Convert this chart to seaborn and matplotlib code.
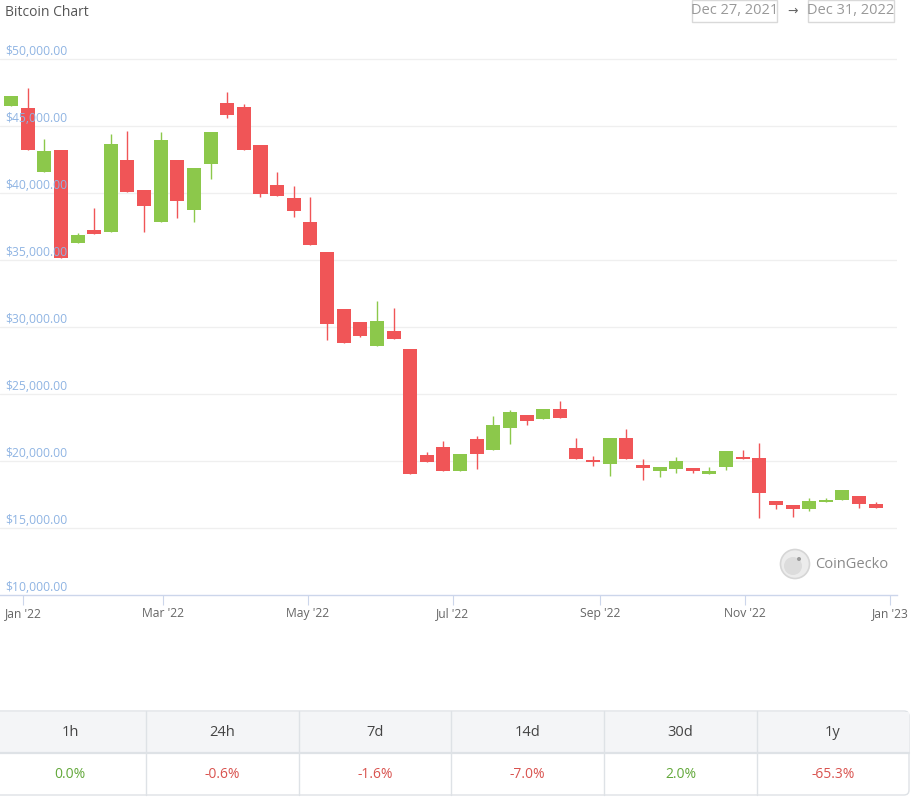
import matplotlib
matplotlib.use("Agg")
import matplotlib.pyplot as plt
from matplotlib.patches import Rectangle, Circle, FancyBboxPatch
import numpy as np
import pandas as pd
import seaborn as sns

# ---------------- data ----------------
week_start = "2021-12-27"
n_weeks = 53
opens = [46480, 46330, 41530, 43200, 36280, 37250, 37060, 42450, 40210, 37800,
         42450, 38740, 42200, 46750, 46400, 43550, 40610, 39590, 37850, 35570,
         31310, 30340, 28600, 29700, 28330, 20440, 21040, 19270, 21620, 20790,
         22480, 23400, 23130, 23900, 20970, 20070, 19770, 21730, 19700, 19270,
         19420, 19450, 19030, 19530, 20300, 20200, 17030, 16690, 16420, 16940,
         17110, 17390, 16790]
highs = [47250, 47820, 44000, 43200, 36980, 38870, 44440, 44610, 40210, 44520,
         42450, 41850, 44540, 47550, 46630, 43550, 41580, 40530, 39710, 35570,
         31310, 30340, 31930, 31410, 28330, 20690, 21490, 20540, 21860, 23350,
         23800, 23400, 23900, 24470, 21730, 20350, 21730, 22360, 20120, 19550,
         20320, 19450, 19570, 20720, 20820, 21320, 17030, 16690, 17210, 17210,
         17810, 17390, 16920]
lows = [46480, 43200, 41530, 35140, 36280, 36950, 37060, 40090, 37100, 37800,
        38150, 37850, 41030, 45610, 43200, 39670, 39740, 38220, 36090, 29020,
        28780, 29220, 28600, 29100, 19030, 19940, 19270, 19270, 19420, 20790,
        21260, 22680, 23130, 23200, 20170, 19650, 18900, 20170, 18580, 18780,
        19080, 19080, 19030, 19330, 20120, 15720, 16390, 15800, 16270, 16940,
        17110, 16510, 16510]
closes = [47250, 43200, 43120, 35140, 36860, 36950, 43650, 40090, 39040, 43940,
          39410, 41850, 44540, 45810, 43200, 39910, 39740, 38670, 36090, 30190,
          28780, 29340, 30460, 29100, 19030, 19940, 19270, 20540, 20540, 22660,
          23630, 22960, 23900, 23200, 20170, 19920, 21730, 20170, 19450, 19550,
          19970, 19230, 19230, 20720, 20120, 17590, 16690, 16440, 17010, 17110,
          17810, 16770, 16510]
y_ticks = [10000, 15000, 20000, 25000, 30000, 35000, 40000, 45000, 50000]
x_tick_dates = ["2022-01-01", "2022-03-01", "2022-05-01", "2022-07-01",
                "2022-09-01", "2022-11-01", "2023-01-01"]
x_tick_labels = ["Jan '22", "Mar '22", "May '22", "Jul '22", "Sep '22", "Nov '22", "Jan '23"]
periods = ["1h", "24h", "7d", "14d", "30d", "1y"]
changes = [0.0, -0.6, -1.6, -7.0, 2.0, -65.3]

# ---------------- style ----------------
sns.set_theme(style="white")
plt.rcParams['font.family'] = ['Open Sans', 'DejaVu Sans']

GREEN = "#8cc84b"
RED = "#f05557"

df = pd.DataFrame({
    "date": pd.date_range(week_start, periods=n_weeks, freq="7D"),
    "open": opens, "high": highs, "low": lows, "close": closes,
})
df["up"] = df["close"] >= df["open"]
df["color"] = np.where(df["up"], GREEN, RED)
df["bottom"] = df[["open", "close"]].min(axis=1)
df["height"] = (df["close"] - df["open"]).abs()

W, H = 916, 798
fig = plt.figure(figsize=(W / 100, H / 100), dpi=100)

ymin, ymax = 10000, 52000
top_px = 595 - (ymax - ymin) * 67 / 5000
ax = fig.add_axes([0, 1 - 595 / H, 897 / W, (595 - top_px) / H])

ax.vlines(df["date"], df["low"], df["high"], colors=df["color"], lw=1, zorder=2)
ax.bar(df["date"], df["height"], bottom=df["bottom"], width=5.9,
       color=df["color"], linewidth=0, zorder=3)

ax.set_ylim(ymin, ymax)
ax.set_xlim(pd.Timestamp("2021-12-22 08:00"), pd.Timestamp("2023-01-03 23:00"))

for yv in y_ticks:
    if yv != y_ticks[0]:
        ax.axhline(yv, color="#efefef", lw=0.9, zorder=1)
    ax.annotate(f"${yv:,.2f}", xy=(0, yv), xycoords=("axes fraction", "data"),
                xytext=(3.5, 5.5), textcoords="offset points", ha="left", va="center",
                fontsize=8.7, color="#8fb4e3", zorder=4)

ax.set_yticks([])
ax.set_xticks(pd.to_datetime(x_tick_dates))
ax.set_xticklabels(x_tick_labels, fontsize=8.7, color="#666666")
ax.tick_params(axis="x", direction="out", length=7.5, width=0.8, color="#ccd6eb",
               pad=1, bottom=True)
for side in ["top", "right", "left"]:
    ax.spines[side].set_visible(False)
ax.spines["bottom"].set_color("#ccd6eb")
ax.spines["bottom"].set_linewidth(1)
ax.set_facecolor("none")

# ---------------- overlay (pixel coords) ----------------
ov = fig.add_axes([0, 0, 1, 1])
ov.set_xlim(0, W)
ov.set_ylim(H, 0)
ov.axis("off")
ov.patch.set_alpha(0)

ov.text(5, 12, "Bitcoin Chart", fontsize=10, color="#555555", ha="left", va="center")

ov.add_patch(Rectangle((692, 0), 85, 22, fill=False, edgecolor="#d9d9d9", lw=1))
ov.text(734.5, 11, "Dec 27, 2021", fontsize=10.5, color="#999999", ha="center", va="center")
ov.text(792.5, 11, "→", fontsize=9, color="#666666", ha="center", va="center",
        family=["DejaVu Sans"])
ov.add_patch(Rectangle((808, 0), 86, 22, fill=False, edgecolor="#d9d9d9", lw=1))
ov.text(851, 11, "Dec 31, 2022", fontsize=10.5, color="#999999", ha="center", va="center")

# CoinGecko watermark
ov.add_patch(Circle((795, 564), 14.5, facecolor="#ececec", edgecolor="#d6d6d6", lw=1.2))
ov.add_patch(Circle((793, 566), 9, facecolor="#dcdcdc", edgecolor="none"))
ov.add_patch(Circle((799, 559), 2, facecolor="#9a9a9a", edgecolor="none"))
ov.text(815, 564, "CoinGecko", fontsize=10.5, color="#8a8a8a", ha="left", va="center")

# table
bounds = [-8, 146, 299, 451, 604, 757, 909]
t_top, t_mid, t_bot = 711, 753, 795
ov.add_patch(FancyBboxPatch((-8, t_top), 917, t_bot - t_top,
                            boxstyle="round,pad=0,rounding_size=5",
                            facecolor="white", edgecolor="#dee2e6", lw=1))
ov.add_patch(Rectangle((-7.5, t_top + 0.5), 916, t_mid - t_top - 1,
                       facecolor="#f4f5f7", edgecolor="none"))
ov.plot([-8, 909], [t_mid, t_mid], color="#dee2e6", lw=1.6)
for b in bounds[1:-1]:
    ov.plot([b, b], [t_top, t_bot], color="#dee2e6", lw=1)
for i, (p, c) in enumerate(zip(periods, changes)):
    cx = (bounds[i] + bounds[i + 1]) / 2 if i else 70
    ov.text(cx, (t_top + t_mid) / 2, p, fontsize=10.5, color="#444444",
            ha="center", va="center")
    col = "#62a83a" if c >= 0 else "#d9534f"
    ov.text(cx, (t_mid + t_bot) / 2, f"{c:.1f}%", fontsize=10, color=col,
            ha="center", va="center")

fig.savefig("out.png", dpi=100, facecolor="white")
